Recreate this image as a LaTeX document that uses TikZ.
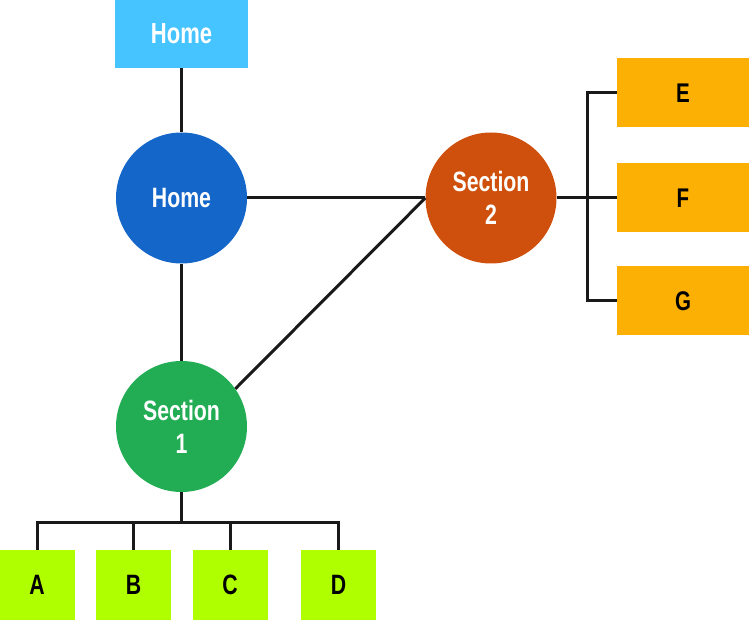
\documentclass[tikz,border=0pt]{standalone}
\usepackage{fontspec}
\setmainfont{Liberation Sans}[FakeStretch=0.76]
\definecolor{cLightBlue}{HTML}{45C4FF}
\definecolor{cBlue}{HTML}{1466C9}
\definecolor{cRust}{HTML}{CF500C}
\definecolor{cGreen}{HTML}{22AD55}
\definecolor{cOrange}{HTML}{FBB003}
\definecolor{cLime}{HTML}{B0FF00}
\begin{document}
\begin{tikzpicture}[x=1pt,y=1pt,
  conn/.style={line width=3pt,black!90,line join=miter},
  circ/.style={circle,minimum size=131pt,inner sep=0pt,text=white,font=\bfseries\fontsize{28}{33}\selectfont,align=center},
  topbox/.style={rectangle,minimum width=133pt,minimum height=68pt,inner sep=0pt,fill=cLightBlue,text=white,font=\bfseries\fontsize{29}{33}\selectfont},
  rbox/.style={rectangle,minimum width=132pt,minimum height=69pt,inner sep=0pt,fill=cOrange,text=black,font=\bfseries\fontsize{27}{30}\selectfont},
  gbox/.style={rectangle,minimum width=75pt,minimum height=70pt,inner sep=0pt,fill=cLime,text=black,font=\bfseries\fontsize{28}{30}\selectfont}]
\useasboundingbox (0,0) rectangle (750,-620);
\node[topbox] (hbox) at (181.5,-34) {Home};
\node[circ,fill=cBlue] (home) at (181.5,-198) {Home};
\node[circ,fill=cRust] (s2) at (491,-198) {Section\\2};
\node[circ,fill=cGreen] (s1) at (181.5,-426.5) {Section\\1};
\node[rbox] (E) at (683,-93) {E};
\node[rbox] (F) at (683,-198) {F};
\node[rbox] (G) at (683,-301) {G};
\node[gbox] (A) at (37,-585) {A};
\node[gbox] (B) at (133.5,-585) {B};
\node[gbox] (C) at (230,-585) {C};
\node[gbox] (D) at (338.5,-585) {D};
\coordinate (br) at (587,0);
\coordinate (bus) at (0,-522);
\draw[conn] (hbox.south) -- (home.north);
\draw[conn] (home.south) -- (s1.north);
\draw[conn] (home.east) -- (s2.west);
\draw[conn] (s1.35) -- (s2.west);
\draw[conn] (s2.east) -- (F.west);
\draw[conn] (E.west) -- (E.west -| br) -- (G.west -| br) -- (G.west);
\draw[conn] (s1.south) -- (s1.south |- bus);
\draw[conn] (A.north) -- (A.north |- bus) -- (D.north |- bus) -- (D.north);
\draw[conn] (B.north) -- (B.north |- bus);
\draw[conn] (C.north) -- (C.north |- bus);
\end{tikzpicture}
\end{document}
